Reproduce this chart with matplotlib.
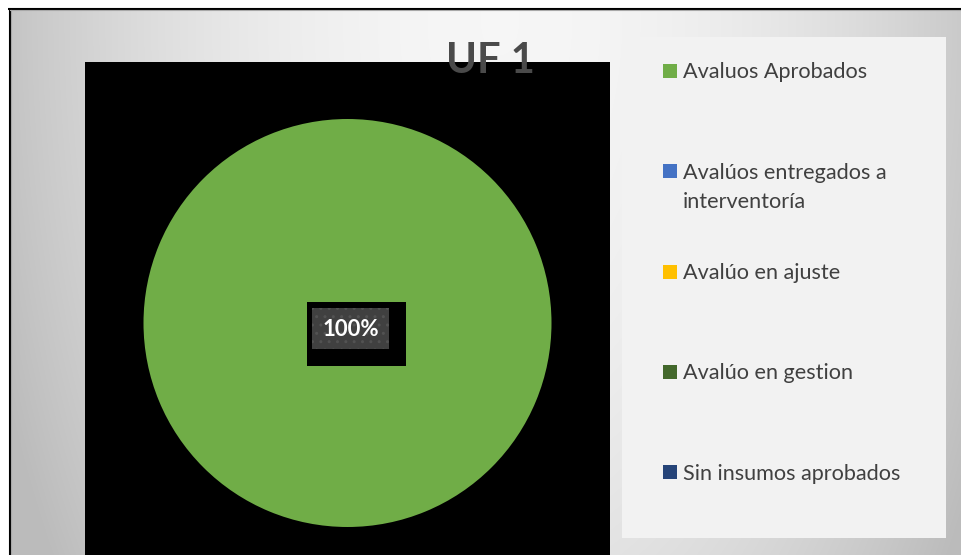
import numpy as np
import matplotlib
matplotlib.use('Agg')
import matplotlib.pyplot as plt
from matplotlib.patches import Rectangle

# ---- data ----
categories = ["Avaluos Aprobados", "Avalúos entregados a\ninterventoría",
              "Avalúo en ajuste", "Avalúo en gestion", "Sin insumos aprobados"]
values = [100, 0, 0, 0, 0]
colors = ["#70AD47", "#4472C4", "#FFC000", "#43682B", "#264478"]
title = "UF 1"

FONT = "Lato"
W, H = 961, 555
fig = plt.figure(figsize=(W / 100, H / 100), dpi=100)

# background axes in pixel coordinates
bg = fig.add_axes([0, 0, 1, 1])
bg.set_xlim(0, W)
bg.set_ylim(H, 0)
bg.axis('off')

yy, xx = np.mgrid[0:H, 0:W] + 0.5
d = np.sqrt(((xx - 500) / 485) ** 2 + ((yy - 20) / 900) ** 2)
g = 0.965 - 0.19 * np.clip(d, 0, 1.1) ** 2
img = np.dstack([g, g, g])
img[(xx < 9) | (yy < 8)] = 1.0
bg.imshow(img, extent=(0, W, H, 0), aspect='auto', interpolation='bilinear')

# chart border
bg.plot([8, W], [8.5, 8.5], color='black', lw=1.5, solid_capstyle='butt')
bg.plot([9.5, 9.5], [8, H], color='black', lw=1.5, solid_capstyle='butt')
bg.plot([10, W], [9.8, 9.8], color='#a8a8a8', lw=0.8)
bg.plot([10.8, 10.8], [10, H], color='#a8a8a8', lw=0.8)

# legend panel
bg.add_patch(Rectangle((622, 37), 324, 501, facecolor='#f2f2f2', edgecolor='none'))
leg_y0, leg_step = 71, 100.3
for i, (lab, col) in enumerate(zip(categories, colors)):
    yc = leg_y0 + i * leg_step
    bg.add_patch(Rectangle((663, yc - 7), 14, 14, facecolor=col, edgecolor='none'))
    for j, line in enumerate(lab.split('\n')):
        bg.text(683, yc + 7.5 + 29 * j, line, fontsize=15.6, family=FONT,
                color='#404040', va='baseline', ha='left')

# pie axes (black plot area)
ax = fig.add_axes([85 / W, 0, (610 - 85) / W, (555 - 62) / H])
ax.set_facecolor('black')
cx, cy, r = 347.5, 323, 204
wedges, texts, autotexts = ax.pie(
    values, colors=colors, center=(cx, cy), radius=r, startangle=90,
    counterclock=False, frame=True,
    autopct=lambda p: f'{p:.0f}%' if p > 0 else '', pctdistance=0,
    wedgeprops=dict(linewidth=0),
    textprops=dict(color='white', fontsize=16, fontweight='bold', family=FONT))
ax.set_xlim(85, 610)
ax.set_ylim(555, 62)
ax.set_aspect('auto')
ax.set_xticks([])
ax.set_yticks([])
for s in ax.spines.values():
    s.set_visible(False)

# data label boxes
lx, ly = cx + 3, cy + 5.5
ax.add_patch(Rectangle((lx - 43.5, ly - 26.5), 99, 64, facecolor='black',
                       edgecolor='none', zorder=3))
ax.add_patch(Rectangle((lx - 38.5, ly - 20.5), 77, 41, facecolor='#404040',
                       edgecolor='#525252', hatch='..', linewidth=0, zorder=4))
for t in autotexts:
    if t.get_text():
        t.set_position((lx, ly + 1))
        t.set_ha('center')
        t.set_va('center')
        t.set_zorder(5)

# title
fig.text(490 / W, 1 - 73 / H, title, fontsize=30, fontweight='bold', family=FONT,
         color='#4a4a4a', ha='center', va='baseline', zorder=10)

fig.savefig('out.png', dpi=100)
